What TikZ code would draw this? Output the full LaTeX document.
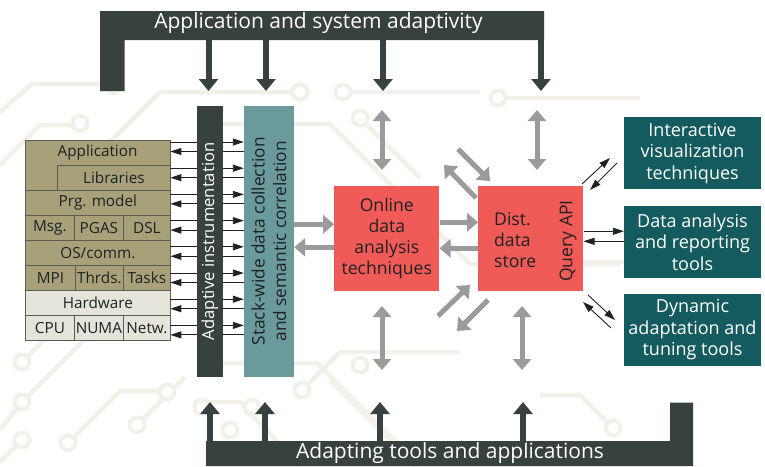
\documentclass[tikz,border=0pt]{standalone}
\usepackage{fontspec}
\setmainfont{Open Sans}
\usetikzlibrary{arrows.meta}

\definecolor{barDark}{HTML}{374240}
\definecolor{layerKhaki}{HTML}{A7A17A}
\definecolor{layerLight}{HTML}{E4E4DA}
\definecolor{cellEdge}{HTML}{5C5C55}
\definecolor{collectTeal}{HTML}{6B9A9C}
\definecolor{coreRed}{HTML}{F05A57}
\definecolor{toolTeal}{HTML}{145B60}
\definecolor{flowGrey}{HTML}{9B9B9B}
\definecolor{traceTint}{HTML}{F1F1EA}
\definecolor{inkDark}{HTML}{1E2222}

\newcommand{\stackfont}{\fontsize{15.3}{18}\selectfont}
\newcommand{\boxfont}{\fontsize{17.6}{21}\selectfont}

\begin{document}
\begin{tikzpicture}[x=1pt,y=-1pt,
  trace/.style={draw=traceTint,line width=4.5pt,line join=round},
  ring/.style={draw=traceTint,line width=4pt,fill=white},
  cell/.style={draw=cellEdge,line width=0.8pt,fill=layerKhaki,inner sep=0pt,
    minimum height=25pt,font=\stackfont,anchor=north west,text=inkDark},
  hwcell/.style={cell,fill=layerLight},
  wire/.style={draw=inkDark,line width=0.9pt,-{Triangle[length=11pt,width=7pt]}},
  flow/.style={draw=flowGrey,line width=5pt,-{Triangle[length=11pt,width=18pt]}},
  flowboth/.style={draw=flowGrey,line width=5pt,
    {Triangle[length=11pt,width=18pt]}-{Triangle[length=11pt,width=18pt]}},
  push/.style={draw=barDark,line width=6pt,-{Triangle[length=12pt,width=19pt]}},
  core/.style={fill=coreRed,minimum width=105pt,minimum height=104.7pt,inner sep=0pt,
    font=\boxfont,text=inkDark,align=center},
  tool/.style={fill=toolTeal,minimum width=137pt,minimum height=72pt,inner sep=0pt,
    font=\fontsize{18}{21.5}\selectfont,text=white,align=center},
  barlabel/.style={text=white,font=\fontsize{21}{24}\selectfont,inner sep=0pt}
]
\useasboundingbox[fill=white] (0,0) rectangle (765,466);

% faint circuit-board traces in the background
\path[trace] (0,112) -- (32,84) -- (106,84);
\path[trace] (0,165) -- (40,125) -- (73,125);
\path[trace] (90,162) -- (160,92) -- (293,92);
\path[trace] (197,124) -- (330,124) -- (470,264) -- (620,264);
\path[trace] (350,92) -- (480,92);
\path[trace] (365,123) -- (420,178);
\path[trace] (505,98) -- (640,98);
\path[trace] (22,362) -- (60,324);
\path[trace] (0,430) -- (22,402) -- (90,334);
\path[trace] (22,440) -- (0,462);
\path[trace] (73,438) -- (120,391) -- (160,391);
\path[trace] (142,420) -- (185,377);
\path[trace] (197,363) -- (317,363) -- (420,466);
\path[trace] (330,380) -- (416,466);
\path[trace] (302,390) -- (340,352) -- (460,352);
\path[trace] (207,402) -- (240,402) -- (300,466);
\path[trace] (613,428) -- (580,395) -- (540,395);
\path[trace] (583,262) -- (624,262);
\foreach \p in {(113,86),(80,123),(300,92),(343,92),(360,118),(498,98),
  (22,362),(22,402),(22,440),(68,443),(137,425),(167,392),(202,407),
  (252,407),(230,430),(302,390),(360,365),(613,428)}
  \path[ring] \p circle (7.5pt);

% top feedback bar
\fill[barDark] (100,11) -- (544,11) -- (544,40) -- (124.6,40) -- (124.6,91)
  -- (100,91) -- cycle;
\node[barlabel] (topLabel) at (318.5,23) {Application and system adaptivity};
\foreach \x [count=\i] in {208.5,266,383,541} {
  \coordinate (tIn\i) at (\x,38);
  \coordinate (tOut\i) at (\x,91);
  \draw[push] (tIn\i) -- (tOut\i);
}

% bottom feedback bar
\fill[barDark] (206,441) -- (670,441) -- (670,402.5) -- (693,402.5) -- (693,466)
  -- (206,466) -- cycle;
\node[barlabel] (bottomLabel) at (450,453) {Adapting tools and applications};
\foreach \x [count=\i] in {210,265,380,523} {
  \coordinate (bIn\i) at (\x,443);
  \coordinate (bOut\i) at (\x,402);
  \draw[push] (bIn\i) -- (bOut\i);
}

% software / hardware stack
\node[minimum width=145pt,minimum height=200pt,inner sep=0pt,anchor=north west]
  (stack) at (25,140) {};
\filldraw[fill=layerKhaki,draw=cellEdge,line width=0.8pt]
  (25,140) -- (170,140) -- (170,165) -- (57,165) -- (57,190) -- (25,190) -- cycle;
\node[font=\stackfont,text=inkDark] (appl) at (97.5,152.5) {Application};
\node[cell,minimum width=113pt] (libs) at (57,165) {Libraries};
\node[cell,minimum width=145pt] (prg) at (25,190) {Prg. model};
\node[cell,minimum width=49pt] (msg) at (25,215) {Msg.};
\node[cell,minimum width=49pt] (pgas) at (74,215) {PGAS};
\node[cell,minimum width=47pt] (dsl) at (123,215) {DSL};
\node[cell,minimum width=145pt] (os) at (25,240) {OS/comm.};
\node[cell,minimum width=50pt] (mpi) at (25,265) {MPI};
\node[cell,minimum width=48pt] (thrds) at (75,265) {Thrds.};
\node[cell,minimum width=47pt] (tasks) at (123,265) {Tasks};
\node[hwcell,minimum width=145pt] (hw) at (25,290) {Hardware};
\node[hwcell,minimum width=49pt] (cpu) at (25,315) {CPU};
\node[hwcell,minimum width=49pt] (numa) at (74,315) {NUMA};
\node[hwcell,minimum width=47pt] (netw) at (123,315) {Netw.};

% data collection box
\node[fill=collectTeal,rotate=90,minimum width=270.7pt,minimum height=50pt,
  inner sep=0pt,align=center,text=inkDark,font=\fontsize{17.3}{21.5}\selectfont]
  (collect) at (269,241.3) {Stack-wide data collection\\and semantic correlation};

% event streams between the stack and the collection box
\foreach \k in {0,...,7} {
  \path (stack.north east) ++(0,{2+26.2*\k}) coordinate (out\k)
    ++(0,9.5) coordinate (in\k);
  \draw[wire] (out\k) -- (collect.north |- out\k);
  \draw[wire] (collect.north |- in\k) -- (in\k);
}

% instrumentation bar, laid over the event streams
\node[fill=barDark,rotate=90,minimum width=270.7pt,minimum height=26pt,
  inner sep=0pt,text=white,font=\fontsize{16.6}{19}\selectfont]
  (instr) at (209.7,241.3) {Adaptive instrumentation};

% analysis and storage
\node[core] (online) at (386.8,238.3) {Online\\data\\analysis\\techniques};
\node[core] (dist) at (530.8,238.3) {};
\node[font=\boxfont,text=inkDark,align=left,anchor=west,inner sep=0pt]
  (distLabel) at (494,240) {Dist.\\data\\store};
\node[font=\boxfont,text=inkDark,rotate=90,inner sep=0pt] (qapi) at (568,241) {Query API};

% consumer tools
\node[tool] (vis) at (692.5,153.3) {Interactive\\visualization\\techniques};
\node[tool] (rep) at (692.5,242) {Data analysis\\and reporting\\tools};
\node[tool] (tune) at (692.5,330) {Dynamic\\adaptation and\\tuning tools};

% grey data flows
\coordinate (oIn) at ([yshift=14pt]online.west);
\coordinate (oBack) at ([yshift=-9pt]online.west);
\draw[flow] (collect.south |- oIn) -- (oIn);
\draw[flow] (oBack) -- (collect.south |- oBack);
\coordinate (dIn) at ([yshift=16pt]dist.west);
\coordinate (dBack) at ([yshift=-10pt]dist.west);
\draw[flow] (online.east |- dIn) -- (dIn);
\draw[flow] (dBack) -- (online.east |- dBack);

\coordinate (oTopA) at (382,110);  \coordinate (oTopB) at (382,170);
\coordinate (oBotA) at (382,306);  \coordinate (oBotB) at (382,370);
\coordinate (dTopA) at (537,110);  \coordinate (dTopB) at (537,170);
\coordinate (dBotA) at (522,306);  \coordinate (dBotB) at (522,370);
\draw[flowboth] (oTopA) -- (oTopB);
\draw[flowboth] (oBotA) -- (oBotB);
\draw[flowboth] (dTopA) -- (dTopB);
\draw[flowboth] (dBotA) -- (dBotB);

\coordinate (dgA1) at (476,198);  \coordinate (dgA2) at (444,165);
\coordinate (dgB1) at (458,149);  \coordinate (dgB2) at (490,181);
\coordinate (dgC1) at (438,316);  \coordinate (dgC2) at (470,285);
\coordinate (dgD1) at (488,300);  \coordinate (dgD2) at (457,331);
\draw[flow] (dgA1) -- (dgA2);
\draw[flow] (dgB1) -- (dgB2);
\draw[flow] (dgC1) -- (dgC2);
\draw[flow] (dgD1) -- (dgD2);

% query API links to the tools
\coordinate (qa1) at (582,184);  \coordinate (qa2) at (610,158);
\coordinate (qb1) at (617,163);  \coordinate (qb2) at (590,190);
\coordinate (qc1) at (588,295);  \coordinate (qc2) at (615,320);
\coordinate (qd1) at (611,328);  \coordinate (qd2) at (583,302);
\draw[wire] (qa1) -- (qa2);
\draw[wire] (qb1) -- (qb2);
\draw[wire] (qc1) -- (qc2);
\draw[wire] (qd1) -- (qd2);
\coordinate (rOut) at ([yshift=7pt]dist.east);
\coordinate (rBack) at ([yshift=-3pt]dist.east);
\draw[wire] (rOut) -- (rep.west |- rOut);
\draw[wire] (rep.west |- rBack) -- (rBack);
\end{tikzpicture}
\end{document}
